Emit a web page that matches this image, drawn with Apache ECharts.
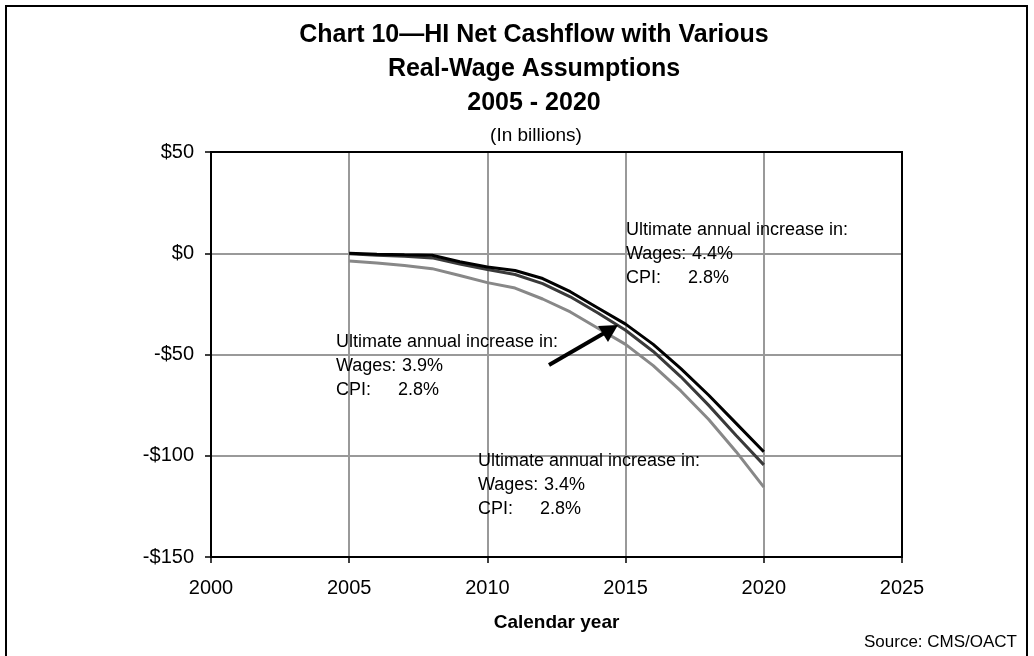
<!DOCTYPE html>
<html>
<head>
<meta charset="utf-8">
<script src="https://cdn.jsdelivr.net/npm/echarts@6/dist/echarts.min.js"></script>
<style>
  html, body { margin: 0; padding: 0; background: #fff; }
  #chart { width: 1034px; height: 656px; }
</style>
</head>
<body>
<div id="chart"></div>
<script>
// values, $ billions
const years = [2005, 2006, 2007, 2008, 2009, 2010, 2011, 2012, 2013, 2014, 2015, 2016, 2017, 2018, 2019, 2020]
const wages44 = [0, -0.5, -0.8, -1, -4.2, -6.8, -8.5, -12.5, -19, -27, -35, -45, -57, -70, -84, -98]
const wages39 = [-0.3, -1, -1.5, -2.3, -5.3, -8, -10.5, -15, -21.5, -29.5, -38, -48.5, -61, -75, -90, -104.5]
const wages34 = [-3.8, -4.8, -6, -7.6, -11, -14.5, -17.2, -22.6, -29, -37, -45, -55.5, -68, -82, -98, -115.5]

const font = "'Liberation Sans', Arial, sans-serif"

function pairs(vals) {
  return years.map((y, i) => [y, vals[i]])
}

function money(v) {
  if (v < 0) return '-$' + (-v)
  return '$' + v
}

// annotation block: label lines + value column
function note(x, y, wage) {
  const st = { fontFamily: font, fontSize: 18, fill: '#000', textVerticalAlign: 'middle' }
  return [
    { type: 'text', x: x, y: y, style: Object.assign({ text: 'Ultimate annual increase in:' }, st), z: 50 },
    { type: 'text', x: x, y: y + 24, style: Object.assign({ text: 'Wages:' }, st), z: 50 },
    { type: 'text', x: x + 66, y: y + 24, style: Object.assign({ text: wage }, st), z: 50 },
    { type: 'text', x: x, y: y + 48, style: Object.assign({ text: 'CPI:' }, st), z: 50 },
    { type: 'text', x: x + 62, y: y + 48, style: Object.assign({ text: '2.8%' }, st), z: 50 }
  ]
}

const chart = echarts.init(document.getElementById('chart'))

const option = {
  backgroundColor: '#fff',
  animation: false,
  title: [{
    text: 'Chart 10\u2014HI Net Cashflow with Various\nReal-Wage Assumptions\n2005 - 2020',
    left: 529,
    top: 13,
    textAlign: 'center',
    textStyle: { fontFamily: font, fontSize: 25, fontWeight: 'bold', color: '#000', lineHeight: 34 }
  }, {
    text: '(In billions)',
    left: 531,
    top: 120,
    textAlign: 'center',
    textStyle: { fontFamily: font, fontSize: 19, fontWeight: 'normal', color: '#000', lineHeight: 22 }
  }, {
    text: 'Source: CMS/OACT',
    right: 12,
    top: 627,
    textStyle: { fontFamily: font, fontSize: 17, fontWeight: 'normal', color: '#000', lineHeight: 20 }
  }],
  grid: { left: 211, right: 132, top: 152, bottom: 99, containLabel: false },
  xAxis: {
    type: 'value',
    min: 2000,
    max: 2025,
    interval: 5,
    name: 'Calendar year',
    nameLocation: 'middle',
    nameGap: 56,
    nameTextStyle: { fontFamily: font, fontSize: 19, fontWeight: 'bold', color: '#000' },
    axisLine: { onZero: false, lineStyle: { color: '#000', width: 2 } },
    axisTick: { show: true, length: 6, lineStyle: { color: '#000', width: 1.5 } },
    axisLabel: { fontFamily: font, fontSize: 20, color: '#000', margin: 21, formatter: v => String(v) },
    splitLine: { show: true, lineStyle: { color: '#999', width: 2 } }
  },
  yAxis: {
    type: 'value',
    min: -150,
    max: 50,
    interval: 50,
    axisLine: { show: true, lineStyle: { color: '#000', width: 2 } },
    axisTick: { show: true, length: 6, lineStyle: { color: '#000', width: 1.5 } },
    axisLabel: { fontFamily: font, fontSize: 20, color: '#000', margin: 17, formatter: money },
    splitLine: { show: true, lineStyle: { color: '#999', width: 2 } }
  },
  series: [
    {
      name: 'Wages 3.4%',
      type: 'line',
      data: pairs(wages34),
      showSymbol: false,
      lineStyle: { color: '#888', width: 3 },
      z: 3
    },
    {
      name: 'Wages 3.9%',
      type: 'line',
      data: pairs(wages39),
      showSymbol: false,
      lineStyle: { color: '#3a3a3a', width: 3 },
      z: 4
    },
    {
      name: 'Wages 4.4%',
      type: 'line',
      data: pairs(wages44),
      showSymbol: false,
      lineStyle: { color: '#000', width: 3 },
      z: 5
    }
  ],
  graphic: [
    // outer frame
    { type: 'rect', shape: { x: 6, y: 6, width: 1021, height: 700 }, style: { fill: null, stroke: '#000', lineWidth: 2 }, z: 60 },
    // plot frame top/right
    { type: 'rect', shape: { x: 211, y: 152, width: 691, height: 405 }, style: { fill: null, stroke: '#000', lineWidth: 2 }, z: 60 },
    // arrow to middle line
    { type: 'line', shape: { x1: 549, y1: 365, x2: 606, y2: 332 }, style: { stroke: '#000', lineWidth: 4 }, z: 55 },
    { type: 'polygon', shape: { points: [[618, 325], [598, 326], [608, 342]] }, style: { fill: '#000' }, z: 55 }
  ]
    .concat(note(626, 230, '4.4%'))
    .concat(note(336, 342, '3.9%'))
    .concat(note(478, 461, '3.4%'))
}

chart.setOption(option)
</script>
</body>
</html>
